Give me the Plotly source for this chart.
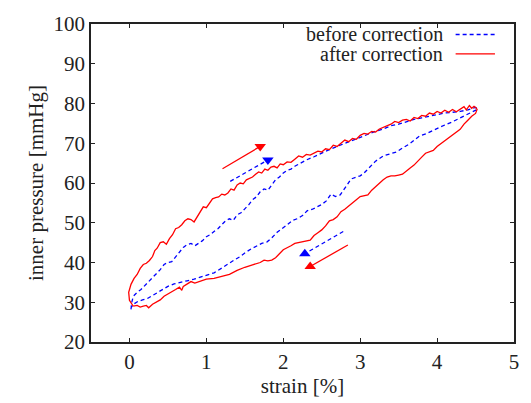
import plotly.graph_objects as go

# ---------------- data ----------------
red_x = [0.05,0.0,-0.01,0.02,0.06,0.1,0.14,0.18,0.22,0.26,0.3,0.33,0.36,0.4,0.44,0.48,0.52,0.56,0.6,0.64,0.68,0.72,0.76,0.8,0.84,0.88,0.92,0.96,1.0,1.04,1.08,1.12,1.16,1.2,1.24,1.28,1.32,1.36,1.4,1.44,1.48,1.52,1.56,1.6,1.64,1.68,1.72,1.76,1.8,1.84,1.88,1.92,1.96,2.0,2.05,2.1,2.15,2.2,2.25,2.3,2.35,2.4,2.45,2.5,2.55,2.6,2.65,2.7,2.75,2.8,2.85,2.9,2.95,3.0,3.05,3.1,3.15,3.2,3.25,3.3,3.35,3.4,3.45,3.5,3.55,3.6,3.65,3.7,3.75,3.8,3.85,3.9,3.95,4.0,4.05,4.1,4.15,4.2,4.25,4.3,4.35,4.38,4.42,4.45,4.48,4.5,
         4.52,4.5,4.45,4.4,4.35,4.3,4.25,4.2,4.15,4.1,4.05,4.0,3.95,3.9,3.85,3.8,3.75,3.7,3.65,3.6,3.55,3.5,3.45,3.4,3.35,3.3,3.25,3.2,3.15,3.1,3.05,3.0,2.95,2.9,2.85,2.8,2.75,2.7,2.65,2.6,2.55,2.5,2.45,2.4,2.35,2.3,2.25,2.2,2.15,2.1,2.05,2.0,1.95,1.9,1.85,1.8,1.75,1.7,1.6,1.5,1.4,1.3,1.2,1.1,1.0,0.9,0.85,0.8,0.75,0.7,0.68,0.65,0.6,0.55,0.5,0.45,0.4,0.35,0.3,0.25,0.22,0.18,0.14,0.1,0.05]
red_y = [29.0,30.5,32.5,34.5,36,37,38.5,39.5,39.8,40.5,41.5,43,43.6,45,45.2,44.6,46,47,48.5,48.8,49.5,50.5,51,50.8,50.2,51.5,53,54,53.8,55,56,56.3,56.5,57.2,57,57.5,58.5,58.2,59.5,60,59.8,60.8,61.2,61.5,62.2,62.8,62.5,63.5,63.2,64,64.2,63.8,64.8,64.6,65.3,65.2,66,66.8,66.5,67.2,67,67.5,68,67.8,68.6,68.4,69.5,69.2,70,70.8,70.4,71.2,71,72,72.5,72.3,73,72.8,73.6,74,74.3,74.8,75.5,75.2,75.8,76,75.6,76.5,76.2,77,76.8,77.6,77.3,78,77.6,78.3,77.8,78.5,77.9,78.6,79.2,78.4,79.5,78.8,79.3,79,
         78.5,77.5,76.8,75.8,74.8,73.5,72.8,72,71.5,70.8,70,69.2,68.2,67.8,67.5,66.5,65.5,64.5,63.8,63,62.2,62,61.8,61.8,61.5,60.8,60,59,58.2,57,56.8,56.6,55.8,55,54,53.4,52.8,51.5,50.8,50.5,49.2,48.2,47.5,46.8,45.6,45.4,45.2,45,44.8,44.2,43.8,43.2,42.2,41.2,40.6,40.4,40.6,40,39.4,38.8,38,37,36.5,36,35.8,35.2,34.8,35.2,34.5,34,33,33.8,33.2,32.6,32,31.5,30.6,30,29.5,28.6,29.2,29,28.8,29.2,29]

blue_x = [0.02,0.03,0.05,0.1,0.15,0.2,0.25,0.3,0.35,0.4,0.45,0.5,0.55,0.6,0.65,0.7,0.75,0.8,0.85,0.9,0.95,1.0,1.05,1.1,1.15,1.2,1.25,1.3,1.35,1.4,1.45,1.5,1.55,1.6,1.65,1.7,1.75,1.8,1.85,1.9,1.95,2.0,2.05,2.1,2.15,2.2,2.3,2.4,2.5,2.6,2.7,2.8,2.9,3.0,3.1,3.2,3.3,3.4,3.5,3.6,3.7,3.8,3.9,4.0,4.1,4.2,4.3,4.4,4.5,
          4.53,4.45,4.37,4.28,4.2,4.1,4.0,3.94,3.86,3.77,3.7,3.64,3.55,3.47,3.4,3.3,3.2,3.15,3.1,3.05,3.0,2.95,2.88,2.83,2.78,2.74,2.68,2.62,2.56,2.5,2.44,2.38,2.31,2.25,2.18,2.12,2.05,1.98,1.92,1.85,1.79,1.72,1.65,1.58,1.5,1.44,1.36,1.27,1.2,1.1,1.0,0.93,0.84,0.75,0.66,0.58,0.5,0.41,0.33,0.24,0.17,0.11,0.05,0.02]
blue_y = [28.2,30,31.5,32.5,33.2,34.2,35,36,37.2,38.2,39.5,40,40.2,41.5,42.5,43.8,44.5,44.8,44.2,44.8,45.5,46.5,47,47.8,48.5,49.5,50.5,51,50.6,52,52.5,53.5,54.5,55.8,56.5,57.8,58.5,58.2,59.5,60.8,61.5,62.5,63.2,63.5,64.2,64.8,65.8,66.6,67.6,68.4,69.2,70,70.8,71.6,72.2,73,73.6,74.4,74.8,75.4,76,76.4,76.8,77.2,77.6,77.8,78,78.4,79,
          78.6,77.8,77,76.2,75.4,74.6,73.6,73,72.4,71.8,70.8,69.8,68.8,67.8,67.4,66.8,65.5,64.5,63.5,62.5,61.8,61.4,61,59.5,58,57,56.6,57.2,55.5,54.6,54,53.4,53,51.8,51,50.6,49.5,48.4,47.6,46.2,45.2,44.8,44.2,43.4,42.4,41.5,40.6,39.4,38.6,37.4,36.8,36.2,35.8,35.4,35,34.6,34,33,32,31,30.6,30.2,29.5,28.6]

# direction arrows (start, end)
arrow_red_up_x = [1.21, 1.70]
arrow_red_up_y = [63.6, 69.2]
arrow_blue_up_x = [1.31, 1.80]
arrow_blue_up_y = [60.4, 65.8]
arrow_blue_dn_x = [2.78, 2.28]
arrow_blue_dn_y = [47.8, 42.2]
arrow_red_dn_x = [2.84, 2.35]
arrow_red_dn_y = [44.4, 39.0]

x_ticks = [0, 1, 2, 3, 4, 5]
y_ticks = [20, 30, 40, 50, 60, 70, 80, 90, 100]

RED = "#ff0000"
BLUE = "#0000ff"
FONT = "Liberation Serif"
TXT = "#222222"
FS = 21

fig = go.Figure()
fig.add_trace(go.Scatter(x=blue_x, y=blue_y, mode="lines",
                         line=dict(color=BLUE, width=1.3, dash="4px,3px"), showlegend=False))
fig.add_trace(go.Scatter(x=red_x, y=red_y, mode="lines",
                         line=dict(color=RED, width=1.3), showlegend=False))

def arrow(xs, ys, color, dash, sym):
    fig.add_trace(go.Scatter(x=xs, y=ys, mode="lines", line=dict(color=color, width=1.3, dash=dash),
                             showlegend=False))
    fig.add_trace(go.Scatter(x=[xs[1]], y=[ys[1]], mode="markers",
                             marker=dict(symbol=sym, color=color, size=10), showlegend=False))

arrow(arrow_red_up_x, arrow_red_up_y, RED, "solid", "triangle-down")
arrow(arrow_blue_up_x, arrow_blue_up_y, BLUE, "4px,3px", "triangle-down")
arrow(arrow_blue_dn_x, arrow_blue_dn_y, BLUE, "4px,3px", "triangle-up")
arrow(arrow_red_dn_x, arrow_red_dn_y, RED, "solid", "triangle-up")

# manual legend (text right-aligned, sample on right, like gnuplot)
legend_items = [("before correction", BLUE, "4px,3px", 0.967), ("after correction", RED, "solid", 0.906)]
for label, color, dash, yp in legend_items:
    fig.add_annotation(x=0.835, y=yp, xref="paper", yref="paper", text=label, showarrow=False,
                       xanchor="right", yanchor="middle", borderpad=0,
                       font=dict(family=FONT, size=20, color=TXT))
    fig.add_shape(type="line", xref="paper", yref="paper", x0=0.862, x1=0.955, y0=yp, y1=yp,
                  line=dict(color=color, width=1.3, dash=dash))

axis_common = dict(showline=True, linecolor=TXT, linewidth=1.5, mirror="ticks",
                   ticks="inside", ticklen=4, tickcolor=TXT, tickwidth=1,
                   showgrid=False, zeroline=False,
                   tickfont=dict(family=FONT, size=FS, color=TXT))

fig.update_layout(
    width=531, height=403,
    margin=dict(l=91, r=16, t=15, b=56),
    paper_bgcolor="white", plot_bgcolor="white",
    font=dict(family=FONT, color=TXT, size=FS),
    xaxis=dict(range=[-0.5, 5], tickvals=x_ticks,
               title=dict(text="strain [%]", font=dict(family=FONT, size=FS, color=TXT), standoff=2),
               **axis_common),
    yaxis=dict(range=[20, 100], tickvals=y_ticks,
               title=dict(text="inner pressure [mmHg]", font=dict(family=FONT, size=FS, color=TXT), standoff=4),
               **axis_common),
)

fig.write_html("out.html")
